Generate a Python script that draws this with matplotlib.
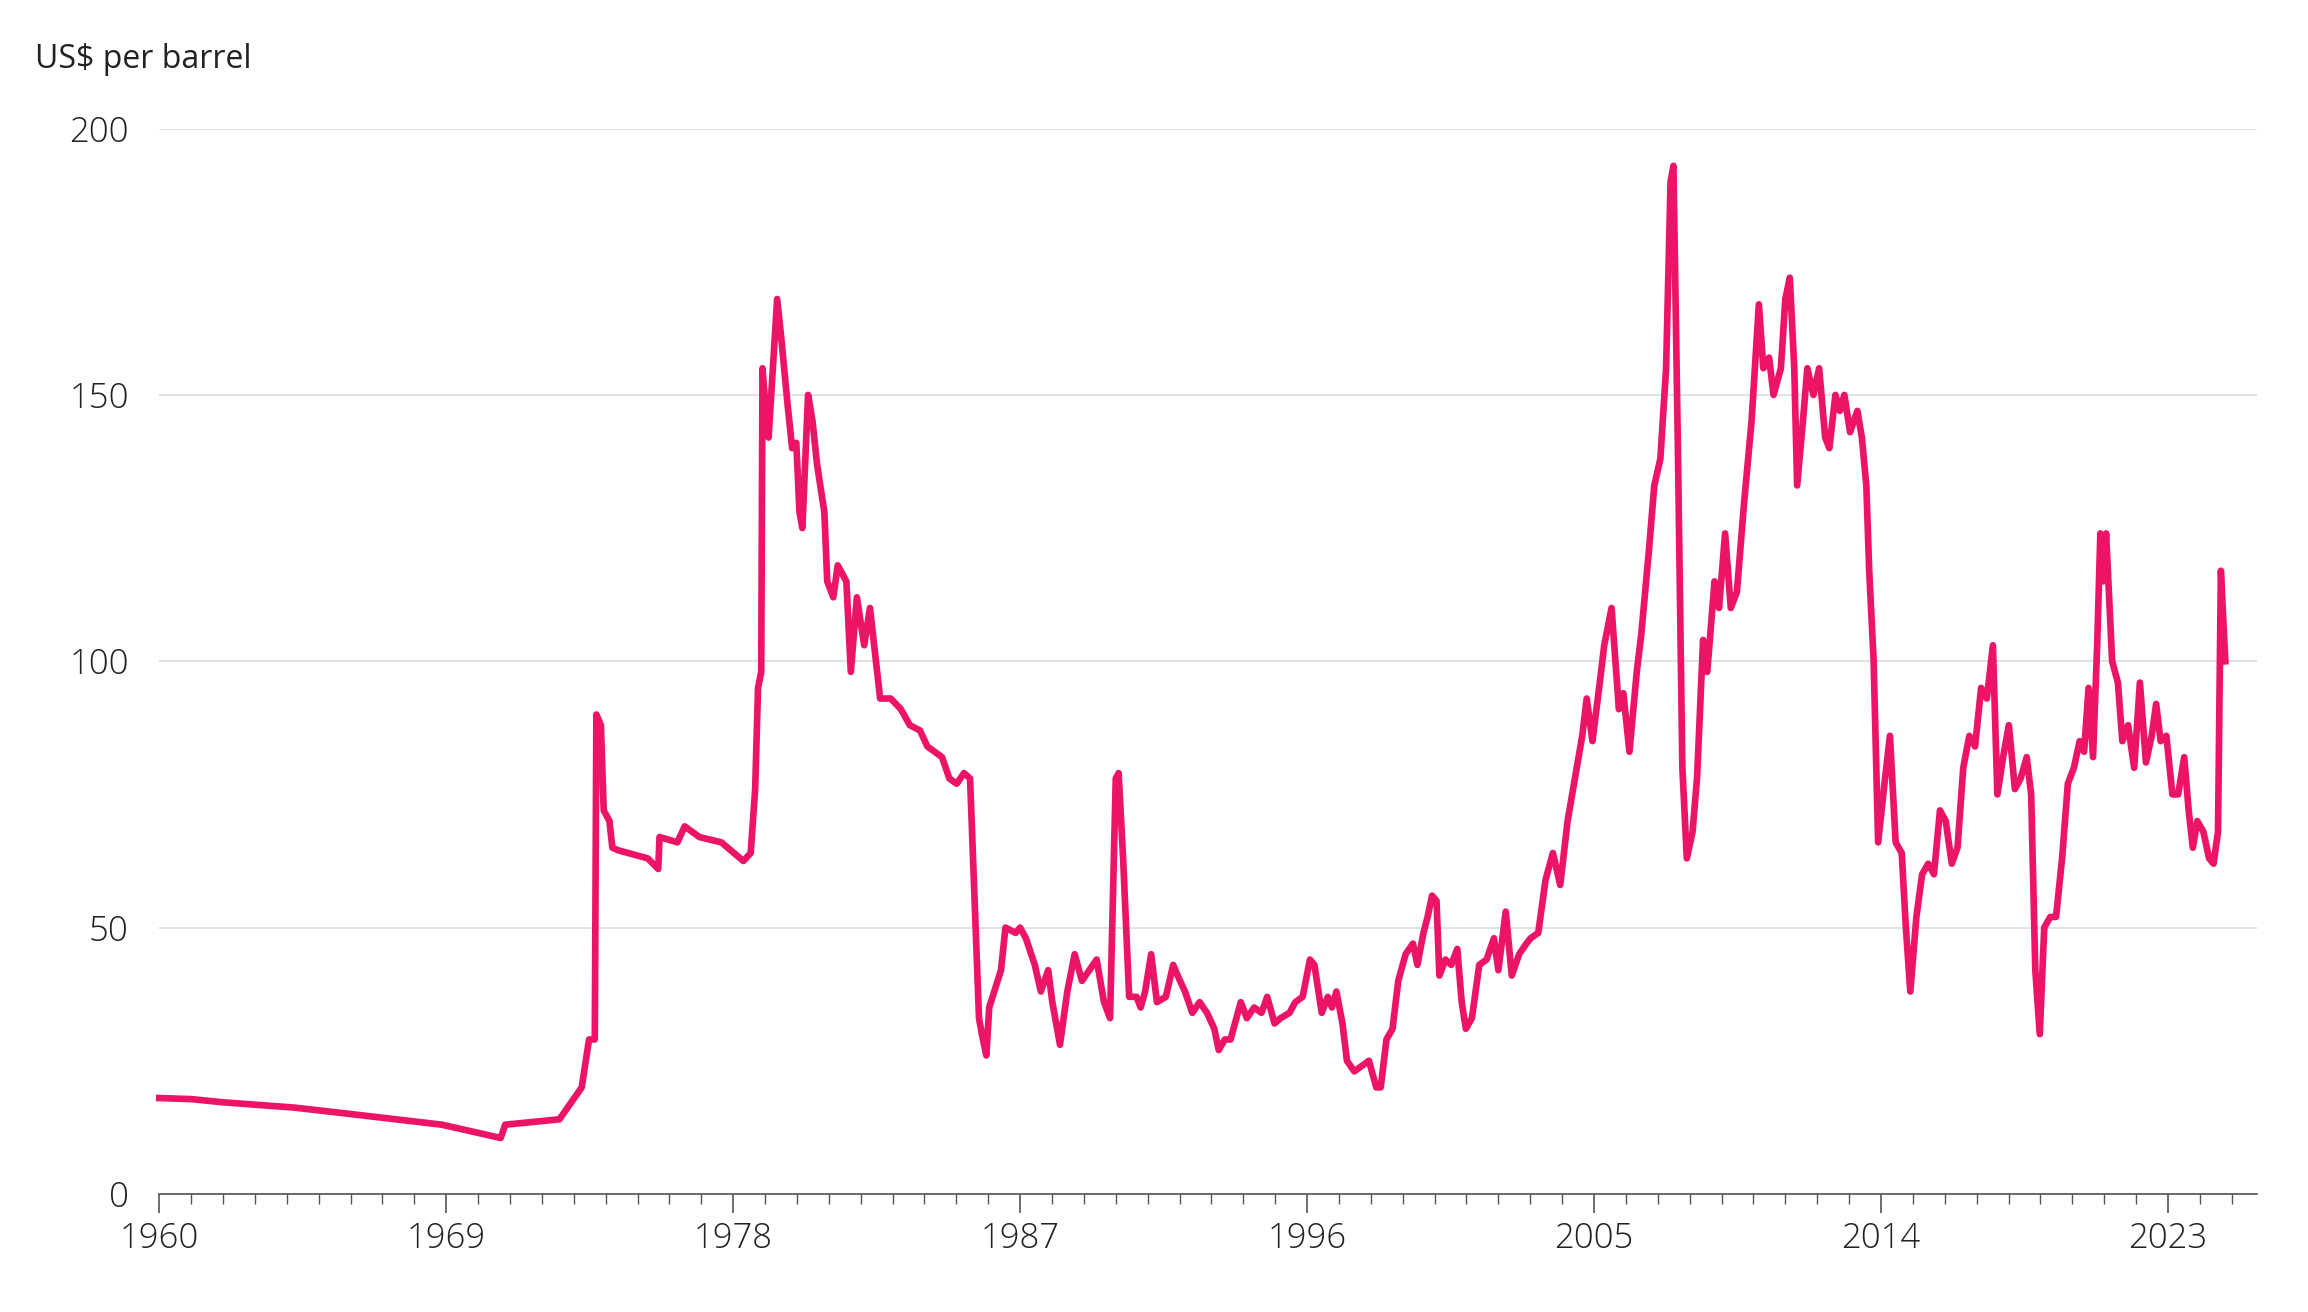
import matplotlib
matplotlib.use("Agg")
import matplotlib.pyplot as plt
from matplotlib.ticker import MultipleLocator

# Monthly-ish price points (decimal year, US$ per barrel)
years = [
    1960.0, 1961.0, 1962.0, 1964.25, 1966.0, 1968.86, 1970.71, 1970.85, 1972.55, 1973.25,
    1973.48, 1973.66, 1973.71, 1973.85, 1973.94, 1974.12, 1974.21, 1974.4, 1975.32, 1975.65,
    1975.69, 1976.25, 1976.48, 1976.94, 1977.63, 1978.32, 1978.55, 1978.69, 1978.78, 1978.88,
    1978.92, 1979.01, 1979.11, 1979.38, 1979.52, 1979.71, 1979.85, 1979.98, 1980.08, 1980.17,
    1980.35, 1980.49, 1980.63, 1980.86, 1980.95, 1981.14, 1981.28, 1981.55, 1981.69, 1981.88,
    1982.11, 1982.29, 1982.48, 1982.61, 1982.94, 1983.26, 1983.54, 1983.86, 1984.09, 1984.32,
    1984.55, 1984.78, 1985.01, 1985.24, 1985.43, 1985.71, 1985.8, 1985.94, 1986.03, 1986.4,
    1986.54, 1986.86, 1987.0, 1987.18, 1987.46, 1987.65, 1987.88, 1988.01, 1988.25, 1988.48,
    1988.71, 1988.94, 1989.17, 1989.4, 1989.63, 1989.82, 1990.0, 1990.09, 1990.23, 1990.42,
    1990.65, 1990.78, 1990.92, 1991.11, 1991.29, 1991.57, 1991.8, 1991.94, 1992.17, 1992.4,
    1992.63, 1992.86, 1993.09, 1993.23, 1993.42, 1993.6, 1993.92, 1994.11, 1994.34, 1994.57,
    1994.75, 1994.98, 1995.17, 1995.45, 1995.63, 1995.86, 1996.09, 1996.23, 1996.46, 1996.65,
    1996.78, 1996.92, 1997.11, 1997.25, 1997.48, 1997.71, 1997.94, 1998.17, 1998.31, 1998.49,
    1998.68, 1998.86, 1999.09, 1999.32, 1999.46, 1999.65, 1999.78, 1999.92, 2000.06, 2000.15,
    2000.34, 2000.52, 2000.71, 2000.85, 2000.98, 2001.17, 2001.4, 2001.63, 2001.86, 2002.0,
    2002.23, 2002.42, 2002.65, 2002.88, 2003.01, 2003.25, 2003.48, 2003.71, 2003.94, 2004.17,
    2004.4, 2004.63, 2004.77, 2004.95, 2005.18, 2005.32, 2005.55, 2005.78, 2005.92, 2006.11,
    2006.34, 2006.48, 2006.71, 2006.89, 2007.08, 2007.26, 2007.4, 2007.49, 2007.63, 2007.77,
    2007.91, 2008.09, 2008.23, 2008.42, 2008.55, 2008.78, 2008.92, 2009.11, 2009.29, 2009.48,
    2009.71, 2009.94, 2010.17, 2010.31, 2010.49, 2010.63, 2010.86, 2011.0, 2011.14, 2011.28,
    2011.37, 2011.55, 2011.69, 2011.88, 2012.06, 2012.25, 2012.38, 2012.57, 2012.71, 2012.85,
    2013.03, 2013.26, 2013.4, 2013.54, 2013.63, 2013.77, 2013.91, 2014.09, 2014.28, 2014.46,
    2014.65, 2014.78, 2014.92, 2015.11, 2015.29, 2015.48, 2015.66, 2015.85, 2016.03, 2016.22,
    2016.4, 2016.58, 2016.77, 2016.95, 2017.14, 2017.32, 2017.51, 2017.65, 2017.83, 2018.01,
    2018.2, 2018.38, 2018.57, 2018.71, 2018.84, 2018.98, 2019.12, 2019.31, 2019.49, 2019.68,
    2019.86, 2020.05, 2020.23, 2020.37, 2020.51, 2020.65, 2020.78, 2020.88, 2020.97, 2021.06,
    2021.25, 2021.43, 2021.57, 2021.75, 2021.94, 2022.12, 2022.31, 2022.49, 2022.63, 2022.77,
    2022.95, 2023.14, 2023.32, 2023.51, 2023.65, 2023.78, 2023.92, 2024.11, 2024.29, 2024.43,
    2024.57, 2024.66, 2024.8,
]
price = [
    18, 17.8, 17.2, 16.2, 15, 13, 10.5, 13, 14, 20,
    29, 29, 90, 88, 72, 70, 65, 64.5, 63, 61,
    67, 66, 69, 67, 66, 62.5, 64, 76, 95, 98,
    155, 148, 142, 168, 160, 148, 140, 141, 128, 125,
    150, 145, 137, 128, 115, 112, 118, 115, 98, 112,
    103, 110, 100, 93, 93, 91, 88, 87, 84, 83,
    82, 78, 77, 79, 78, 33, 30, 26, 35, 42,
    50, 49, 50, 48, 43, 38, 42, 36, 28, 38,
    45, 40, 42, 44, 36, 33, 78, 79, 63, 37,
    37, 35, 38, 45, 36, 37, 43, 41, 38, 34,
    36, 34, 31, 27, 29, 29, 36, 33, 35, 34,
    37, 32, 33, 34, 36, 37, 44, 43, 34, 37,
    35, 38, 32, 25, 23, 24, 25, 20, 20, 29,
    31, 40, 45, 47, 43, 49, 52, 56, 55, 41,
    44, 43, 46, 36, 31, 33, 43, 44, 48, 42,
    53, 41, 45, 47, 48, 49, 59, 64, 58, 70,
    78, 86, 93, 85, 96, 103, 110, 91, 94, 83,
    98, 105, 120, 133, 138, 155, 190, 193, 140, 80,
    63, 68, 78, 104, 98, 115, 110, 124, 110, 113,
    130, 145, 167, 155, 157, 150, 155, 168, 172, 155,
    133, 145, 155, 150, 155, 142, 140, 150, 147, 150,
    143, 147, 142, 133, 117, 100, 66, 76, 86, 66,
    64, 50, 38, 52, 60, 62, 60, 72, 70, 62,
    65, 80, 86, 84, 95, 93, 103, 75, 82, 88,
    76, 78, 82, 75, 42, 30, 50, 52, 52, 63,
    77, 80, 85, 83, 95, 82, 103, 124, 115, 124,
    100, 96, 85, 88, 80, 96, 81, 86, 92, 85,
    86, 75, 75, 82, 72, 65, 70, 68, 63, 62,
    68, 117, 100,
]

yticks = [0, 50, 100, 150, 200]
xticks = [1960, 1969, 1978, 1987, 1996, 2005, 2014, 2023]
LINE_COLOR = "#EC1466"
TEXT_COLOR = "#222222"

plt.rcParams["font.family"] = ["Open Sans", "DejaVu Sans"]

fig = plt.figure(figsize=(23.08, 13.12), dpi=100)
ax = fig.add_axes([0.069, 0.09, 0.909, 0.812])

ax.plot(years, price, color=LINE_COLOR, linewidth=4.8, solid_joinstyle="round",
        zorder=3, clip_on=False)

ax.set_xlim(1960, 2025.8)
ax.set_ylim(0, 200)
ax.set_yticks(yticks)
ax.set_xticks(xticks)
ax.xaxis.set_minor_locator(MultipleLocator(1))
ax.yaxis.grid(True, color="#dddddd", linewidth=1.2)
ax.set_axisbelow(True)
for s in ["top", "right", "left"]:
    ax.spines[s].set_visible(False)
ax.spines["bottom"].set_color("#555555")
ax.spines["bottom"].set_linewidth(1.2)
ax.tick_params(axis="y", length=0, labelsize=25, labelcolor=TEXT_COLOR, pad=22)
ax.tick_params(axis="x", which="major", length=14, width=1.2, color="#555555",
               labelsize=25, labelcolor=TEXT_COLOR, pad=6)
ax.tick_params(axis="x", which="minor", length=7, width=1.0, color="#555555")
for lab in ax.get_xticklabels() + ax.get_yticklabels():
    lab.set_fontweight("light")

fig.text(0.015, 0.955, "US$ per barrel", fontsize=23, color=TEXT_COLOR,
         ha="left", va="center")

fig.savefig("out.png", dpi=100)
